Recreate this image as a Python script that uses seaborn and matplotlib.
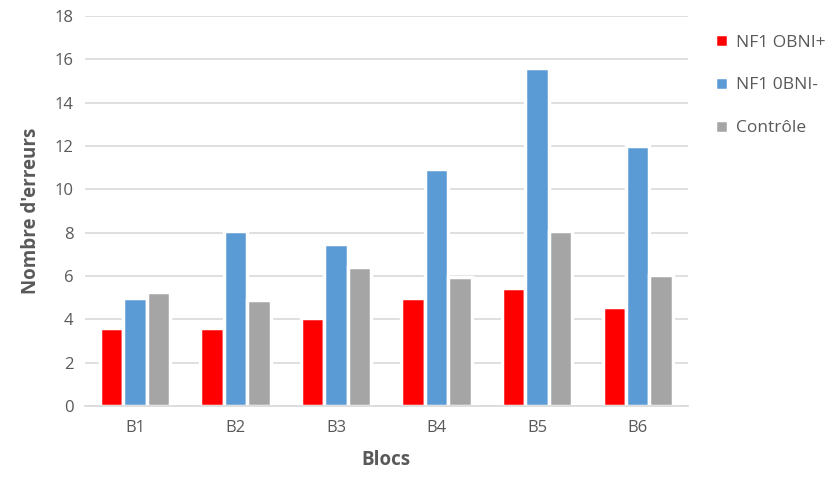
import numpy as np
import pandas as pd
import matplotlib
matplotlib.use("Agg")
import matplotlib.pyplot as plt
import seaborn as sns

# valeurs
blocs = ["B1", "B2", "B3", "B4", "B5", "B6"]
nf1_plus = [3.6, 3.6, 4.05, 5.0, 5.45, 4.55]
nf1_moins = [5.0, 8.05, 7.45, 10.95, 15.6, 12.0]
controle = [5.25, 4.9, 6.4, 5.95, 8.05, 6.05]
groupes = ["NF1 OBNI+", "NF1 0BNI-", "Contrôle"]
couleurs = ["#ff0000", "#5b9bd5", "#a5a5a5"]

df = pd.DataFrame({
    "bloc": blocs * 3,
    "groupe": [groupes[0]] * 6 + [groupes[1]] * 6 + [groupes[2]] * 6,
    "erreurs": nf1_plus + nf1_moins + controle,
})

sns.set_style("white")
plt.rcParams["font.family"] = ["Open Sans", "DejaVu Sans"]

fig = plt.figure(figsize=(8.38, 4.86), dpi=100)
ax = fig.add_axes([0.101, 0.165, 0.72, 0.802])

sns.barplot(data=df, x="bloc", y="erreurs", hue="groupe", palette=couleurs,
            saturation=1, width=0.7, edgecolor="white", linewidth=2.5, ax=ax)

ax.set_ylim(0, 18)
ax.set_yticks(range(0, 19, 2))
ax.yaxis.grid(True, color="#d9d9d9", linewidth=1.2)
ax.set_axisbelow(True)
for s in ["top", "right", "left"]:
    ax.spines[s].set_visible(False)
ax.spines["bottom"].set_color("#d9d9d9")
ax.spines["bottom"].set_linewidth(1.2)
ax.tick_params(axis="both", length=0, colors="#595959", labelsize=12)
ax.tick_params(axis="x", pad=10)
ax.tick_params(axis="y", pad=8)
ax.set_xlabel("Blocs", fontsize=13.5, fontweight="bold", color="#595959", labelpad=10)
ax.set_ylabel("Nombre d'erreurs", fontsize=13.5, fontweight="bold", color="#595959", labelpad=10)

handles, labels = ax.get_legend_handles_labels()
ax.get_legend().remove()
leg = fig.legend(handles, labels, loc="upper left", bbox_to_anchor=(0.834, 0.962),
                 frameon=False, fontsize=12.5, handlelength=0.8, handleheight=0.8,
                 labelspacing=1.5, handletextpad=0.45)
for t in leg.get_texts():
    t.set_color("#595959")

fig.savefig("out.png", dpi=100)
